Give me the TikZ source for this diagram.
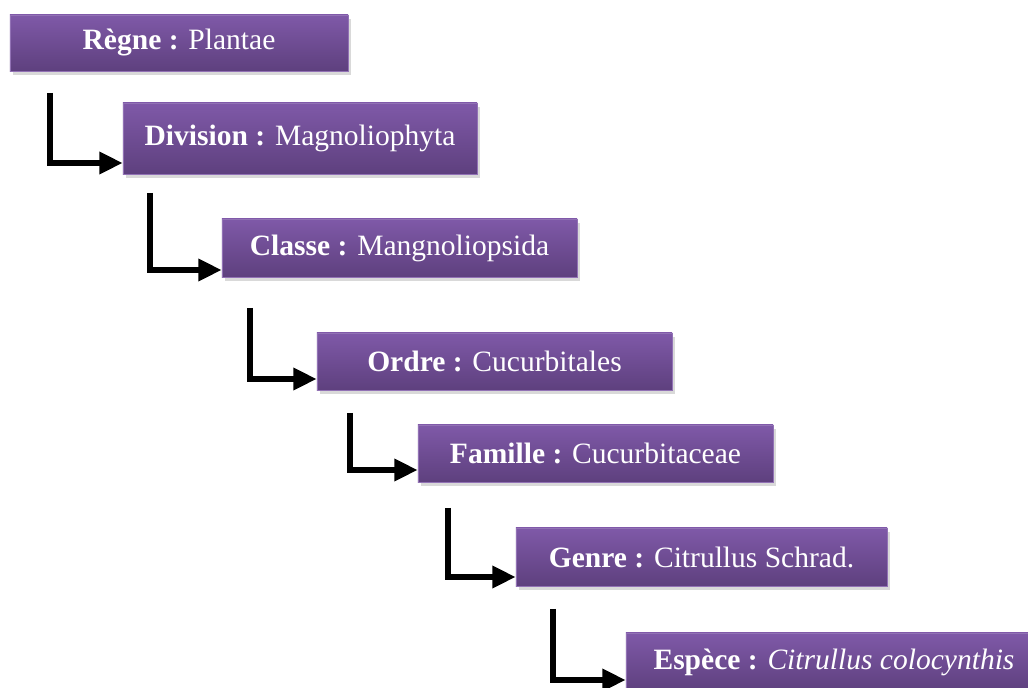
\documentclass[tikz,border=0pt]{standalone}
\usepackage{fontspec}
\setmainfont{Liberation Serif}
\usetikzlibrary{arrows.meta,shadows,positioning}
\definecolor{violettop}{HTML}{7F59A8}
\definecolor{violetbot}{HTML}{5E407E}
\tikzset{%
	taxon/.style = {rectangle, top color=violettop, bottom color=violetbot, draw=violettop!85!white, line width=0.6pt, text=white, font=\fontsize{21}{25}\selectfont, inner sep=0pt, minimum height=1.45cm, drop shadow={shadow xshift=2pt, shadow yshift=-2.5pt, opacity=0.3}},
	arrow/.style = {line width=3.6pt, -{Triangle[length=0.58cm,width=0.54cm]}},
}

\begin{document}
\begin{tikzpicture}[x=0.025cm,y=-0.025cm]
	\useasboundingbox (0,0) rectangle (1028,688);
	% boxes
	\node[taxon, minimum width=8.45cm, minimum height=1.4cm] (regne) at (179,43) {\textbf{Règne :} Plantae};
	\node[taxon, minimum width=8.85cm, minimum height=1.775cm] (division) at (300,138.5) {\textbf{Division :} Magnoliophyta};
	\node[taxon, minimum width=8.875cm] (classe) at (399.5,248) {\textbf{Classe :} Mangnoliopsida};
	\node[taxon, minimum width=8.875cm, minimum height=1.425cm] (ordre) at (494.5,361.5) {\textbf{Ordre :} Cucurbitales};
	\node[taxon, minimum width=8.875cm, minimum height=1.425cm] (famille) at (595.5,453.5) {\textbf{Famille :} Cucurbitaceae};
	\node[taxon, minimum width=9.275cm] (genre) at (701.5,557) {\textbf{Genre :} Citrullus Schrad.};
	\node[taxon, minimum width=10.4cm] (espece) at (834,662) {\textbf{Espèce :} \textit{Citrullus colocynthis}};
	% connectors
	\coordinate (s1) at (50,93);
	\coordinate (s2) at (150,193);
	\coordinate (s3) at (250,308);
	\coordinate (s4) at (350,413);
	\coordinate (s5) at (448,508);
	\coordinate (s6) at (553,609);
	\draw[arrow] (s1) |- (division.west |- 0,163);
	\draw[arrow] (s2) |- (classe.west |- 0,270);
	\draw[arrow] (s3) |- (ordre.west |- 0,379);
	\draw[arrow] (s4) |- (famille.west |- 0,470);
	\draw[arrow] (s5) |- (genre.west |- 0,577);
	\draw[arrow] (s6) |- (espece.west |- 0,680);
\end{tikzpicture}
\end{document}
